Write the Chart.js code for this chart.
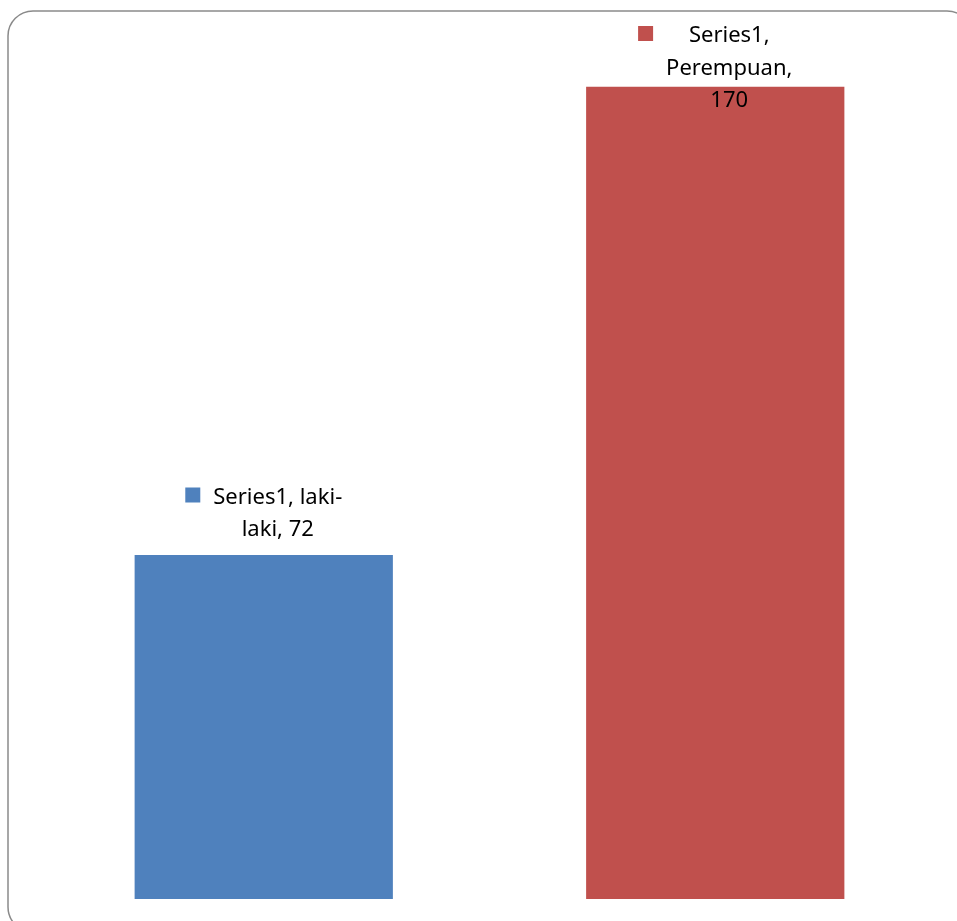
<!DOCTYPE html>
<html>
<head>
<meta charset="utf-8">
<script src="https://cdn.jsdelivr.net/npm/chart.js@4"></script>
<style>
  html, body { margin: 0; padding: 0; background: #fff; }
  #wrap { width: 957px; height: 921px; position: relative; }
</style>
</head>
<body>
<div id="wrap"><canvas id="chart"></canvas></div>
<script>
// data
const SERIES_NAME = "Series1";
const CATEGORIES = ["laki-laki", "Perempuan"];
const VALUES = [72, 170];
const BAR_COLORS = ["#4F81BD", "#C0504D"];

const FONT = "22px 'Noto Sans'";
const LINE_H = 32.5;
const WRAP_W = 140;

// split "a, b-c" into tokens that keep their break char (space or hyphen)
function wrapText(ctx, text, maxW) {
  const tokens = text.match(/[^\s-]+-?\s*|\s+/g) || [];
  const lines = [];
  let cur = "";
  tokens.forEach(tok => {
    const trial = cur + tok;
    if (cur && ctx.measureText(trial.trimEnd()).width > maxW) {
      lines.push(cur.trimEnd());
      cur = tok;
    } else {
      cur = trial;
    }
  });
  if (cur) lines.push(cur.trimEnd());
  return lines;
}

// rounded frame around the whole chart
const framePlugin = {
  id: "frame",
  beforeDraw(chart) {
    const ctx = chart.ctx;
    ctx.save();
    ctx.fillStyle = "#fff";
    ctx.fillRect(0, 0, chart.width, chart.height);
    ctx.beginPath();
    ctx.roundRect(8, 11, 964, 921, 25);
    ctx.lineWidth = 1.5;
    ctx.strokeStyle = "#8a8a8a";
    ctx.stroke();
    ctx.restore();
  }
};

// excel-style data labels with legend key
const labelPlugin = {
  id: "barLabels",
  afterDatasetsDraw(chart) {
    const ctx = chart.ctx;
    const meta = chart.getDatasetMeta(0);
    ctx.save();
    ctx.font = FONT;
    ctx.fillStyle = "#000";
    ctx.textAlign = "center";
    ctx.textBaseline = "alphabetic";
    meta.data.forEach((bar, i) => {
      const text = `${SERIES_NAME}, ${CATEGORIES[i]}, ${VALUES[i]}`;
      const lines = wrapText(ctx, text, WRAP_W);
      const maxW = Math.max(...lines.map(l => ctx.measureText(l).width));
      const sq = 15, gap = 13;
      const blockW = sq + gap + maxW;
      const left = bar.x - blockW / 2;
      const textCx = left + sq + gap + maxW / 2;
      // centre of first line, placed above bar but kept inside the frame
      let firstC = bar.y - 27 - (lines.length - 1) * LINE_H;
      firstC = Math.max(firstC, 34);
      lines.forEach((l, k) => {
        ctx.fillText(l, textCx, firstC + k * LINE_H + 8);
      });
      ctx.fillStyle = BAR_COLORS[i];
      ctx.fillRect(left, firstC - 8, sq, sq);
      ctx.fillStyle = "#000";
    });
    ctx.restore();
  }
};

new Chart(document.getElementById("chart"), {
  type: "bar",
  data: {
    labels: CATEGORIES,
    datasets: [{
      label: SERIES_NAME,
      data: VALUES,
      backgroundColor: BAR_COLORS,
      borderWidth: 0,
      categoryPercentage: 1,
      barPercentage: 0.572
    }]
  },
  options: {
    responsive: true,
    maintainAspectRatio: false,
    animation: false,
    layout: { padding: { left: 38, right: 16, top: 39, bottom: 22 } },
    plugins: { legend: { display: false }, tooltip: { enabled: false } },
    scales: {
      x: { display: false },
      y: { display: false, min: 0, max: 180 }
    }
  },
  plugins: [framePlugin, labelPlugin]
});
</script>
</body>
</html>
